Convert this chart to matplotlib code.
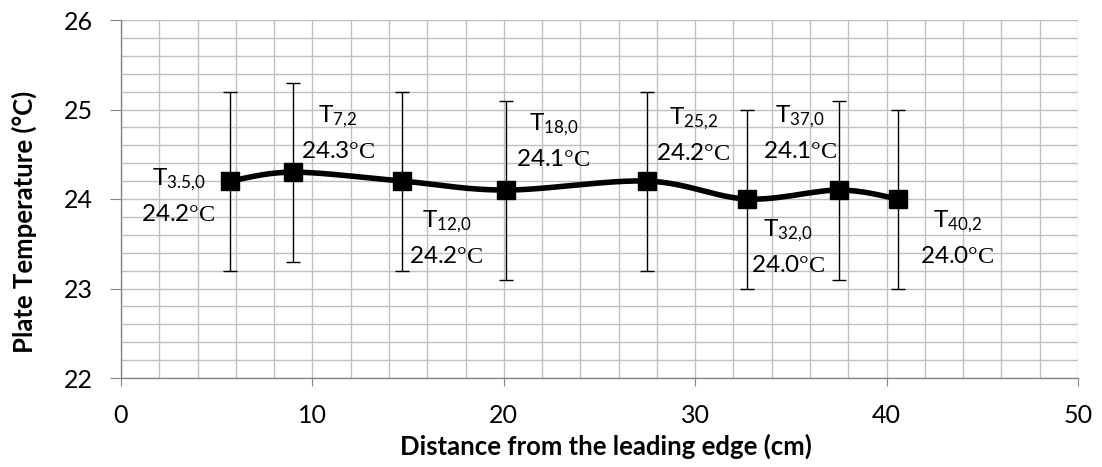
import numpy as np
import matplotlib
matplotlib.use("Agg")
import matplotlib.pyplot as plt
from matplotlib.ticker import MultipleLocator

# Data
distance = [5.7, 9.0, 14.7, 20.1, 27.5, 32.7, 37.5, 40.6]
temperature = [24.2, 24.3, 24.2, 24.1, 24.2, 24.0, 24.1, 24.0]
error = [1.0, 1.0, 1.0, 1.0, 1.0, 1.0, 1.0, 1.0]
subscripts = ["3.5,0", "7,2", "12,0", "18,0", "25,2", "32,0", "37,0", "40,2"]
label_values = ["24.2", "24.3", "24.2", "24.1", "24.2", "24.0", "24.1", "24.0"]
# label anchor (center x, top y) in data units
label_x = [3.0, 11.34, 17.0, 22.6, 29.9, 34.85, 35.48, 43.68]
label_y = [24.36, 25.07, 23.89, 24.98, 25.05, 23.79, 25.07, 23.90]

FONT = "Lato"
plt.rcParams['font.family'] = [FONT, 'DejaVu Sans']
plt.rcParams['mathtext.fontset'] = 'custom'
plt.rcParams['mathtext.rm'] = 'Liberation Serif'
plt.rcParams['mathtext.sf'] = FONT
plt.rcParams['mathtext.it'] = FONT

W, H = 1102, 467
fig = plt.figure(figsize=(W / 100, H / 100), dpi=100)
L, R, T, B = 121, 1078, 20, 378
ax = fig.add_axes([L / W, 1 - B / H, (R - L) / W, (B - T) / H])

# Smooth curve (Excel-style Bezier smoothing through points)
P = np.column_stack([distance, temperature])
n = len(P)
curve = []
t = np.linspace(0, 1, 40)
for i in range(n - 1):
    p0 = P[i]
    p3 = P[i + 1]
    pm = P[i - 1] if i > 0 else P[i]
    pp = P[i + 2] if i + 2 < n else P[i + 1]
    c1 = p0 + (p3 - pm) / 6.0
    c2 = p3 - (pp - p0) / 6.0
    seg = ((1 - t) ** 3)[:, None] * p0 + (3 * (1 - t) ** 2 * t)[:, None] * c1 \
        + (3 * (1 - t) * t ** 2)[:, None] * c2 + (t ** 3)[:, None] * p3
    curve.append(seg)
curve = np.vstack(curve)
ax.plot(curve[:, 0], curve[:, 1], color='black', lw=4.0, zorder=3, solid_capstyle='round')

ax.errorbar(distance, temperature, yerr=error, fmt='none', ecolor='black',
            elinewidth=1.0, capsize=4.7, capthick=1.0, zorder=2)
ax.plot(distance, temperature, linestyle='none', marker='s', markersize=13,
        color='black', zorder=4)

for x, y, s, v in zip(label_x, label_y, subscripts, label_values):
    txt = "T$_{\\mathsf{" + s.replace(",", "{,}") + "}}$\n" + v + "$\\mathrm{°C}$"
    ax.text(x, y, txt, ha='center', va='top', multialignment='center',
            fontsize=17.5, color='black', linespacing=1.65, zorder=5)

ax.set_xlim(0, 50)
ax.set_ylim(22, 26)
ax.xaxis.set_major_locator(MultipleLocator(10))
ax.xaxis.set_minor_locator(MultipleLocator(2))
ax.yaxis.set_major_locator(MultipleLocator(1))
ax.yaxis.set_minor_locator(MultipleLocator(0.2))
ax.grid(which='both', color='#c0c0c0', lw=1.0, zorder=0)
ax.set_axisbelow(True)
ax.tick_params(which='major', direction='out', color='#868686', labelsize=18)
ax.tick_params(axis='x', which='major', length=5.8, pad=13)
ax.tick_params(axis='y', which='major', length=8, pad=12)
ax.tick_params(which='minor', length=0)
for side in ['top', 'right']:
    ax.spines[side].set_visible(False)
for side in ['left', 'bottom']:
    ax.spines[side].set_color('#868686')
    ax.spines[side].set_linewidth(1.0)

fig.text(606 / W, 1 - 455 / H, "Distance from the leading edge (cm)", fontsize=18.5,
         fontweight='bold', ha='center', va='baseline')
fig.text(33 / W, 1 - 222 / H, "Plate Temperature (°C)", fontsize=18.5, fontweight='bold',
         rotation=90, rotation_mode='anchor', ha='center', va='baseline')

fig.savefig("out.png", dpi=100)
